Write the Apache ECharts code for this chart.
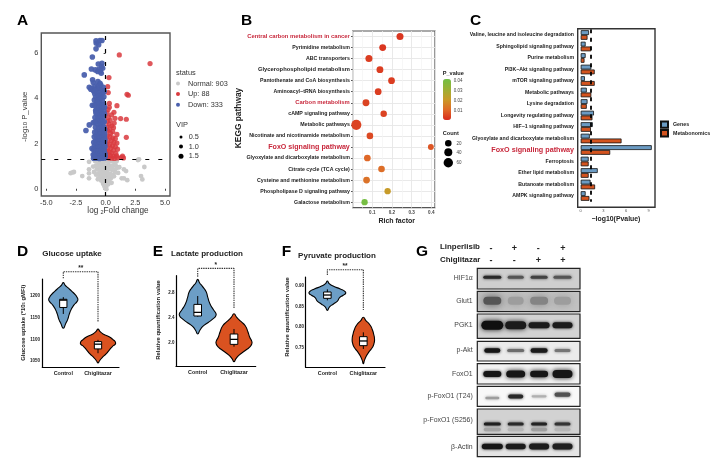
<!DOCTYPE html>
<html><head><meta charset="utf-8">
<style>html,body{margin:0;padding:0;background:#fff}#c{width:720px;height:467px;filter:blur(.45px)}</style>
<script src="https://cdn.jsdelivr.net/npm/echarts@6/dist/echarts.min.js"></script>
</head><body><div id="c"></div>
<script>
// ---------- A: volcano ----------
const volcanoDown = [[-1.8,5.03],[-.81,6.53],[-.48,6.55],[-.31,6.55],[-.79,6.43],[-.81,6.18],[-.59,6.36],[-1.12,5.82],[-.62,5.51],[-.31,5.54],[-.34,5.4],[-1.2,5.29],[-.87,5.25],[-.56,5.28],[-.25,5.32],[-.67,5.18],[-.37,5.1],[-.45,5.2],[-1.1,4.81],[-.65,4.73],[-1.04,4.69],[-.48,4.66],[-1.38,4.48],[-1.15,4.44],[-.9,4.54],[-.67,4.51],[-.42,4.59],[-.2,4.48],[-1.25,4.4],[-1.02,4.32],[-.78,4.38],[-.55,4.42],[-.33,4.36],[-.92,4.2],[-.7,4.24],[-.48,4.18],[-.24,4.22],[-.85,4.05],[-.62,4.08],[-.38,4.02],[-.15,4.06],[-.95,3.92],[-.72,3.9],[-.5,3.94],[-.28,3.88],[-1.12,3.69],[-.8,3.74],[-.58,3.76],[-.36,3.7],[-.16,3.72],[-.68,3.58],[-.46,3.55],[-.25,3.58],[-.84,3.45],[-.6,3.42],[-.38,3.4],[-.15,3.44],[-.72,3.28],[-.5,3.25],[-.28,3.3],[-.9,3.15],[-.64,3.12],[-.42,3.14],[-.18,3.16],[-1.04,2.92],[-.76,3],[-.55,2.98],[-.32,3],[-.12,2.96],[-1.38,2.82],[-.68,2.84],[-.46,2.82],[-.24,2.86],[-1.66,2.57],[-.86,2.72],[-.58,2.68],[-.36,2.7],[-.14,2.72],[-.74,2.55],[-.5,2.54],[-.28,2.56],[-.62,2.4],[-.42,2.42],[-.2,2.38],[-.82,2.36],[-.72,2.24],[-.52,2.26],[-.32,2.25],[-.1,2.28],[-.86,2.12],[-.62,2.1],[-.42,2.12],[-.2,2.14],[-.74,1.98],[-.52,1.96],[-.3,1.98],[-.08,2],[-.95,1.92],[-1.15,1.78],[-1.02,1.72],[-.84,1.8],[-.62,1.82],[-.42,1.84],[-.2,1.8],[-.78,1.66],[-.56,1.68],[-.36,1.7],[-.12,1.68],[-.94,1.55],[-.7,1.54],[-.48,1.56],[-.26,1.54],[-.06,1.56],[-.85,1.42],[-.62,1.42],[-.4,1.44],[-.18,1.42],[-.75,1.35],[-.52,1.34],[-.3,1.35],[-.08,1.36],[-.7,3.82],[-.1,3.6],[-.78,3.52],[-.1,3.3],[-.82,3.35],[-.9,2.95],[-.08,2.6],[-.92,2.5],[-.96,2.3],[-1.0,2.05],[-.08,2.42],[-.06,2.15],[-.06,1.85],[-.04,1.45],[-1.05,1.5],[-1.02,1.35],[-.92,1.38],[-.96,3.7],[-.88,4.34],[-.12,4.3]];
const volcanoUp = [[1.15,5.91],[3.74,5.53],[.28,4.91],[.17,4.51],[.22,4.25],[1.8,4.17],[1.91,4.13],[.95,3.67],[.31,3.77],[.31,3.6],[.2,3.5],[.7,3.38],[.5,3.26],[.12,3.35],[.22,3.15],[.79,3.11],[1.26,3.1],[1.74,3.07],[.38,3.02],[.14,2.98],[.72,2.9],[.3,2.85],[.52,2.78],[.12,2.74],[.66,2.7],[.32,2.62],[.18,2.56],[.6,2.52],[.42,2.45],[.95,2.4],[1.74,2.27],[.14,2.34],[.36,2.3],[.6,2.25],[.82,2.22],[.2,2.14],[.48,2.12],[.7,2.05],[.95,2.02],[.12,1.98],[.34,1.95],[.58,1.9],[.82,1.85],[.18,1.8],[.42,1.78],[1.0,1.75],[.66,1.7],[.1,1.65],[.3,1.62],[.5,1.58],[.86,1.56],[.18,1.5],[.4,1.46],[.66,1.44],[.92,1.45],[1.42,1.44],[1.5,1.36],[1.3,1.38],[.1,1.38],[.28,1.36],[.5,1.35],[.74,1.34],[1.0,1.36]];
const volcanoNormal = [[-2.95,.69],[-2.78,.72],[-2.67,.74],[-1.97,.56],[-1.4,1.19],[-1.4,.86],[-1.4,.68],[-1.4,.46],[-1.05,.98],[-.98,.74],[2.81,1.3],[2.72,1.27],[3.26,.96],[2.98,.56],[3.09,.41],[1.54,.86],[1.72,.78],[1.35,.46],[1.54,.46],[1.82,.38],[1.15,.95],[1.05,.7],[-.88,1.22],[-.7,1.2],[-.52,1.22],[-.32,1.18],[-.12,1.2],[.1,1.22],[.3,1.2],[.5,1.22],[.72,1.18],[.92,1.22],[-.82,1.02],[-.6,1.05],[-.4,1.02],[-.2,1.04],[.02,1.02],[.22,1.04],[.42,1],[.62,1.02],[.84,1.04],[-.74,.86],[-.52,.86],[-.3,.88],[-.1,.84],[.12,.86],[.32,.88],[.52,.84],[.74,.82],[-.62,.68],[-.42,.7],[-.22,.7],[-.02,.68],[.18,.7],[.38,.66],[.6,.62],[-.52,.52],[-.34,.52],[-.14,.54],[.06,.5],[.26,.52],[.46,.48],[-.38,.36],[-.22,.38],[-.04,.34],[.14,.36],[.32,.34],[-.22,.22],[-.08,.2],[.08,.22],[.22,.2],[-.1,.1],[.04,.08],[-.02,.02],[.06,-.02],[.95,.92],[.82,.72],[.7,.55],[-.8,.62],[-.66,.42],[.5,.26],[.02,.92],[-.5,.96],[.55,.92],[-.3,.6],[.28,.6],[-.2,.3]];
const volcanoXTicks = [-5,-2.5,0,2.5,5];
const volcanoYTicks = [0,2,4,6];
const vipLegend = [['0.5',3],['1.0',4],['1.5',5]];

// ---------- B: KEGG bubble ----------
const keggPathways = ['Central carbon metabolism in cancer','Pyrimidine metabolism','ABC transporters','Glycerophospholipid metabolism','Pantothenate and CoA biosynthesis','Aminoacyl\u2212tRNA biosynthesis','Carbon metabolism','cAMP signaling pathway','Metabolic pathways','Nicotinate and nicotinamide metabolism','FoxO signaling pathway','Glyoxylate and dicarboxylate metabolism','Citrate cycle (TCA cycle)','Cysteine and methionine metabolism','Phospholipase D signaling pathway','Galactose metabolism'];
const keggRich = [.241,.153,.083,.139,.198,.13,.068,.158,.019,.088,.398,.075,.147,.071,.178,.061];
const keggP = [.002,.002,.003,.003,.003,.003,.004,.004,.004,.005,.007,.010,.011,.012,.021,.04];
const keggCount = [26,24,26,24,22,22,24,18,70,20,10,22,20,22,16,16];
const pValueTicks = ['0.04','0.03','0.02','0.01'];
const countLegend = [20,40,60];

// ---------- C: bars ----------
const jointPathways = ['Valine, leucine and isoleucine degradation','Sphingolipid signaling pathway','Purine metabolism','PI3K\u2212Akt signaling pathway','mTOR signaling pathway','Metabolic pathways','Lysine degradation','Longevity regulating pathway','HIF\u22121 signaling pathway','Glyoxylate and dicarboxylate metabolism','FoxO signaling pathway','Ferroptosis','Ether lipid metabolism','Butanoate metabolism','AMPK signaling pathway'];
const genesLogP = [1.1,.65,.65,1.4,.55,.8,.9,1.75,1.6,1.2,9.4,1.05,2.25,1.3,.65];
const metabLogP = [.9,1.4,.5,1.85,1.85,1.4,.8,1.55,1.35,5.4,3.9,1.05,1.05,1.9,1.15];

// ---------- D/E/F: violins ([value, half width]) ----------
const violinCategories = ['Control','Chiglitazar'];
const glucoseControl = [[1231.7,0],[1226,.05],[1220,.13],[1212,.24],[1203,.35],[1197,.4],[1192,.42],[1187,.39],[1180,.31],[1170,.23],[1158,.17],[1147,.13],[1137,.07],[1125.8,0]];
const glucoseTreated = [[1123.8,0],[1118,.06],[1112,.16],[1106,.32],[1099,.44],[1094,.5],[1089,.5],[1084,.42],[1076,.33],[1067,.24],[1058,.12],[1050,.04],[1045.4,0]];
const glucoseControlBox = [1159,1174,1191,1193,1198];
const glucoseTreatedBox = [1068,1078,1089,1095,1099];
const lactateControl = [[3.013,0],[2.96,.05],[2.9,.13],[2.82,.23],[2.72,.28],[2.62,.34],[2.53,.43],[2.47,.5],[2.43,.5],[2.38,.42],[2.32,.28],[2.26,.14],[2.2,.06],[2.139,0]];
const lactateTreated = [[2.464,0],[2.41,.07],[2.34,.19],[2.27,.31],[2.18,.38],[2.09,.43],[2.02,.49],[1.98,.49],[1.93,.43],[1.87,.3],[1.8,.14],[1.74,.05],[1.696,0]];
const lactateControlBox = [2.416,2.427,2.485,2.613,2.747];
const lactateTreatedBox = [1.936,1.973,2.053,2.139,2.219];
const pyruvateControl = [[.9112,0],[.905,.05],[.899,.16],[.892,.36],[.886,.49],[.882,.51],[.877,.44],[.871,.34],[.863,.28],[.856,.17],[.849,.06],[.8406,0]];
const pyruvateTreated = [[.8238,0],[.816,.07],[.806,.18],[.794,.25],[.782,.29],[.772,.31],[.762,.3],[.751,.25],[.741,.16],[.73,.08],[.72,.03],[.7122,0]];
const pyruvateControlBox = [.8647,.8695,.8775,.8848,.8912];
const pyruvateTreatedBox = [.7475,.7555,.7668,.7772,.7876];
const glucoseTicks = [1050,1100,1150,1200];
const lactateTicks = [2.0,2.4,2.8];
const pyruvateTicks = [.75,.80,.85,.90];

// ---------- G: blot (band darkness per lane) ----------
const blotTargets = ['HIF1\u03b1','Glut1','PGK1','p-Akt','FoxO1','p-FoxO1 (T24)','p-FoxO1 (S256)','\u03b2-Actin'];
const linperlisibSigns = ['-','+','-','+'];
const chiglitazarSigns = ['-','-','+','+'];
const blotDarkness = [[.85,.62,.72,.62],[.62,.25,.38,.25],[.98,.92,.92,.92],[.95,.5,.92,.45],[.95,.95,.95,.95],[.25,.85,.15,.65],[.9,.85,.88,.8],[.95,.92,.92,.9]];
const s256LowerDarkness = [.22,.12,.24,.12];

// ---------- layout / style (not data) ----------
const F = 'Liberation Sans, Arial, sans-serif';
const INK = '#222', RED = '#c8283c';
const txt = (text,x,y,o={}) => ({type:'text',x,y,rotation:o.rot||0,silent:true,z:50,style:{text,fontSize:o.size||6,fontWeight:o.bold?'bold':'normal',fill:o.color||INK,fontFamily:F,align:o.align||'left',verticalAlign:'middle',rich:o.rich}});
const R90 = Math.PI/2;
const grids=[],xAxes=[],yAxes=[],series=[],graphic=[];
const addGrid=(g,x,y)=>{grids.push(Object.assign({containLabel:false},g));const i=grids.length-1;xAxes.push(Object.assign({gridIndex:i},x));yAxes.push(Object.assign({gridIndex:i},y));return i;};
const px=(l,t,r,b,extra)=>Object.assign({left:l,top:t,width:r-l,height:b-t},extra||{});

// Panel letters
[['A',17,20.5],['B',241,20.5],['C',470,20.5],['D',17,252],['E',152.7,252],['F',281.7,252],['G',416,252]].forEach(a=>graphic.push(txt(a[0],a[1],a[2],{size:15.5,bold:true,color:'#000'})));

// A ---------------------------------------------------------
const gA=addGrid(px(41.3,33,170,196,{show:true,borderColor:'#555',borderWidth:1.4,backgroundColor:'#fff'}),
 {type:'value',min:-5.42,max:5.42,splitLine:{show:false},axisLine:{show:false},
  axisTick:{show:true,length:2,customValues:volcanoXTicks,lineStyle:{color:'#444'}},
  axisLabel:{customValues:volcanoXTicks,formatter:v=>v.toFixed(1),fontSize:7.4,color:'#333',margin:3}},
 {type:'value',min:-.32,max:6.88,splitLine:{show:false},axisLine:{show:false},
  axisTick:{show:true,length:2,customValues:volcanoYTicks,lineStyle:{color:'#444'}},
  axisLabel:{customValues:volcanoYTicks,fontSize:7.4,color:'#333',margin:3}});
series.push({type:'scatter',name:'threshold',xAxisIndex:gA,yAxisIndex:gA,data:[],z:1,markLine:{silent:true,symbol:'none',label:{show:false},animation:false,
  lineStyle:{color:'#000',width:1.2,type:[4,9]},data:[{yAxis:1.3},{xAxis:0}]}});
[['Normal: 903',volcanoNormal,'#c9c9c9',4.8,1],['Up: 88',volcanoUp,'#d93a3e',5.2,.85],['Down: 333',volcanoDown,'#4a60ad',5.6,.95]].forEach(s=>series.push({type:'scatter',name:s[0],xAxisIndex:gA,yAxisIndex:gA,data:s[1],symbolSize:s[3],z:2,itemStyle:{color:s[2],opacity:s[4]}}));
graphic.push(txt('log {s|2}Fold change',118,211,{size:8.2,color:'#333',align:'center',rich:{s:{fontSize:5.5,fill:'#333',verticalAlign:'bottom',fontFamily:F}}}));
graphic.push(txt('-log{s|10} P_value',25,116.7,{size:7.8,color:'#333',align:'center',rot:R90,rich:{s:{fontSize:6,fill:'#333',fontFamily:F}}}));
graphic.push(txt('status',176,73,{size:7.4,color:'#333'}),txt('VIP',176,124.7,{size:7.4,color:'#333'}));
vipLegend.forEach((v,i)=>{const y=137+i*9.6;graphic.push({type:'circle',silent:true,z:50,shape:{cx:181,cy:y,r:v[1]/2},style:{fill:'#000'}},txt(v[0],188.7,y,{size:7.3,color:'#333'}));});

// B ---------------------------------------------------------
const bSpecial={'Central carbon metabolism in cancer':[5.85,RED],'Carbon metabolism':[5.85,RED],'FoxO signaling pathway':[7.1,RED],'Glycerophospholipid metabolism':[5.8,INK]};
const gB=addGrid(px(352.6,31,435,207.7,{show:true,borderColor:'#555',borderWidth:1.2,backgroundColor:'#fff'}),
 {type:'value',min:0,max:.419,interval:.1,minorTick:{show:false,splitNumber:2},minorSplitLine:{show:true,lineStyle:{color:'#f3f3f3',width:.7}},
  splitLine:{show:true,lineStyle:{color:'#e6e6e6',width:.9}},axisLine:{show:false},axisTick:{show:false},
  axisLabel:{formatter:v=>v===0?'':v.toFixed(1),fontSize:4.6,fontWeight:'bold',color:'#444',margin:3}},
 {type:'category',inverse:true,data:keggPathways.map(n=>bSpecial[n]?{value:n,textStyle:{fontSize:bSpecial[n][0],color:bSpecial[n][1]}}:n),
  axisLine:{show:false},axisTick:{show:true,length:1.5,alignWithLabel:true,lineStyle:{color:'#444'}},
  splitLine:{show:true,alignWithLabel:true,lineStyle:{color:'#e6e6e6',width:.9}},
  axisLabel:{interval:0,fontSize:5.25,fontWeight:'bold',color:INK,margin:2.8}});
const sizeOf=c=>5.2+.07*c;
const bIndex=series.length;
series.push({type:'scatter',name:'KEGG',xAxisIndex:gB,yAxisIndex:gB,clip:false,z:3,itemStyle:{opacity:1},data:keggRich.map((r,i)=>[r,i,keggP[i],keggCount[i]]),symbolSize:v=>sizeOf(v[3])});
graphic.push(txt('KEGG pathway',239,118,{size:8.4,bold:true,align:'center',rot:R90}),txt('Rich factor',396.7,221,{size:7,bold:true,align:'center'}),
 txt('P_value',442.7,73.7,{size:5.6,bold:true}),txt('Count',442.7,133.7,{size:5.6,bold:true}));
pValueTicks.forEach((t,i)=>graphic.push(txt(t,453.7,80.7+i*10,{size:4.5,color:'#444'})));
countLegend.forEach((c,i)=>{const y=[143.3,152.3,162.7][i];graphic.push({type:'circle',silent:true,z:50,shape:{cx:448.3,cy:y,r:sizeOf(c)/2},style:{fill:'#000'}},txt(String(c),456.5,y,{size:4.5,color:'#444'}));});

// C ---------------------------------------------------------
const gC=addGrid(px(577.7,29.25,655,201.75),
 {type:'value',min:-.4,max:9.83,splitLine:{show:false},axisLine:{show:false},axisTick:{show:false},
  axisLabel:{customValues:[0,3,6,9],fontSize:4,color:'#555',margin:7.5}},
 {type:'category',inverse:true,data:jointPathways.map(n=>n==='FoxO signaling pathway'?{value:n,textStyle:{fontSize:7.2,color:RED}}:n),
  axisLine:{show:false},axisTick:{show:false},axisLabel:{interval:0,fontSize:5.2,fontWeight:'bold',color:INK,margin:3.7}});
const cBar=(name,data,color)=>({type:'bar',name,xAxisIndex:gC,yAxisIndex:gC,data,barWidth:4.8,barGap:'0%',z:3,itemStyle:{color,borderColor:'#111',borderWidth:.8}});
series.push(Object.assign(cBar('Genes',genesLogP,'#6b9bc3'),{markLine:{silent:true,symbol:'none',label:{show:false},animation:false,lineStyle:{color:'#000',width:1.8,type:[4,4.5]},data:[{xAxis:1.37}]}}),cBar('Metabonomics',metabLogP,'#d4541f'));
graphic.push({type:'rect',silent:true,z:40,shape:{x:577.7,y:28.7,width:77.3,height:178.6},style:{fill:'none',stroke:'#333',lineWidth:1.4}});
graphic.push(txt('\u2212log10(Pvalue)',616,219.3,{size:6.9,bold:true,align:'center'}));

// D/E/F -----------------------------------------------------
const violinPanel=(o)=>{
  const g=addGrid(px(o.left,o.top,o.right,o.bottom),
   {type:'value',min:o.xMin,max:o.xMax,splitLine:{show:false},axisTick:{show:false},
    axisLine:{show:true,onZero:false,lineStyle:{color:'#000',width:1.2}},
    axisLabel:{customValues:[0,1],formatter:v=>violinCategories[v],fontSize:5.4,fontWeight:'bold',color:INK,margin:3.5}},
   {type:'value',min:o.yMin,max:o.yMax,splitLine:{show:false},axisTick:{show:false},
    axisLine:{show:true,onZero:false,lineStyle:{color:'#000',width:1.2}},
    axisLabel:{customValues:o.ticks,formatter:o.fmt,fontSize:4.5,fontWeight:'bold',color:INK,margin:o.labelMargin}});
  const colors=['#6c9ec6','#da5220'];
  series.push({type:'custom',name:o.name,xAxisIndex:g,yAxisIndex:g,z:3,data:[[0],[1]],clip:false,
    renderItem:(p,api)=>{
      const i=api.value(0),prof=o.violins[i],box=o.boxes[i],hw=.105;
      const pts=prof.map(d=>api.coord([i+d[1],d[0]])).concat(prof.slice().reverse().slice(1,-1).map(d=>api.coord([i-d[1],d[0]])));
      const tl=api.coord([i-hw,box[3]]),br=api.coord([i+hw,box[1]]),ml=api.coord([i-hw,box[2]]),mr=api.coord([i+hw,box[2]]),wt=api.coord([i,box[4]]),wb=api.coord([i,box[0]]);
      return {type:'group',children:[
        {type:'polygon',shape:{points:pts,smooth:.6},style:{fill:colors[i],stroke:'#000',lineWidth:1.1}},
        {type:'line',shape:{x1:wt[0],y1:wt[1],x2:wb[0],y2:wb[1]},style:{stroke:'#000',lineWidth:1}},
        {type:'rect',shape:{x:tl[0],y:tl[1],width:br[0]-tl[0],height:br[1]-tl[1]},style:{fill:'#fff',stroke:'#000',lineWidth:1}},
        {type:'line',shape:{x1:ml[0],y1:ml[1],x2:mr[0],y2:mr[1]},style:{stroke:'#000',lineWidth:1.3}}
      ]};
    }});
  series.push({type:'line',name:o.name+' bracket',xAxisIndex:g,yAxisIndex:g,clip:false,showSymbol:false,silent:true,z:4,data:o.bracket,
    lineStyle:{color:'#333',width:1.1,type:[1.4,.9]}});
};
violinPanel({name:'Glucose uptake',left:42.3,top:279,right:119,bottom:367.3,xMin:-.605,xMax:1.605,yMin:1035.4,yMax:1240,ticks:glucoseTicks,fmt:v=>String(v),labelMargin:2.3,
  violins:[glucoseControl,glucoseTreated],boxes:[glucoseControlBox,glucoseTreatedBox],bracket:[[0,1241.5],[0,1256.9],[1,1256.9],[1,1140]]});
violinPanel({name:'Lactate production',left:176,top:275.7,right:255.7,bottom:366.3,xMin:-.598,xMax:1.598,yMin:1.622,yMax:3.072,ticks:lactateTicks,fmt:v=>v.toFixed(1),labelMargin:1.6,
  violins:[lactateControl,lactateTreated],boxes:[lactateControlBox,lactateTreatedBox],bracket:[[0,3.056],[0,3.189],[1,3.189],[1,2.539]]});
violinPanel({name:'Pyruvate production',left:305.7,top:277,right:385,bottom:367.3,xMin:-.602,xMax:1.602,yMin:.7034,yMax:.9209,ticks:pyruvateTicks,fmt:v=>v.toFixed(2),labelMargin:1.6,
  violins:[pyruvateControl,pyruvateTreated],boxes:[pyruvateControlBox,pyruvateTreatedBox],bracket:[[0,.9257],[0,.9385],[1,.9385],[1,.8414]]});
graphic.push(
 txt('Glucose uptake',72,254,{size:8,bold:true,align:'center'}),txt('Lactate production',207,254,{size:8,bold:true,align:'center'}),txt('Pyruvate production',337,255.3,{size:8,bold:true,align:'center'}),
 txt('**',80.7,268.5,{size:6.5,bold:true,align:'center'}),txt('*',215.7,265,{size:6.5,bold:true,align:'center'}),txt('**',345,266.5,{size:6.5,bold:true,align:'center'}),
 txt('Glucose uptake (*10{p|5} gMFI)',23.7,322.8,{size:5.9,bold:true,align:'center',rot:R90,rich:{p:{fontSize:4,fontWeight:'bold',fill:INK,fontFamily:F}}}),
 txt('Relative quantification value',158.7,320,{size:5.9,bold:true,align:'center',rot:R90}),
 txt('Relative quantification value',287.7,317,{size:5.9,bold:true,align:'center',rot:R90}));

// G ---------------------------------------------------------
const rowTop=[0,23,45.7,73,95.4,118,140.7,168];
const rowBottom=[20.7,43.4,70,92.7,115.7,138,166,188.4];
const rowBg=['#cfcfcf','#c2c2c2','#d2d2d2','#ebebeb','#f2f2f2','#f8f8f8','#d2d2d2','#e4e4e4'];
const bandY=[9,9.5,11.3,9.2,10.2,[11.7,10.3,10,8.3],[15,15,15,15],10.3];
const bandH=[3,8,[9,8,6,6],[4.6,3.2,4.4,3.2],[6,7,6.5,8],[2.6,4,2.2,4.4],3.2,[5.5,5.5,6,6]];
const bandW=[[18,16,17,18],[18,16,18,17],[22,21,21,20],[16,17,17,16],[18,19,18,20],[14,15,15,16],[17,16,16,16],[21,20,20,20]];
const pick=(v,i)=>Array.isArray(v)?v[i]:v;
const gG=addGrid(px(477.3,268.3,580,456.7),{type:'value',show:false,min:-.641,max:3.748},{type:'value',show:false,inverse:true,min:0,max:188.4});
series.push({type:'custom',name:'Blot panels',xAxisIndex:gG,yAxisIndex:gG,z:2,silent:true,data:blotTargets.map((n,i)=>[i]),
  renderItem:(p,api)=>{const i=api.value(0),a=api.coord([-.641,rowTop[i]]),b=api.coord([3.748,rowBottom[i]]);
    return {type:'rect',shape:{x:a[0],y:a[1],width:b[0]-a[0],height:b[1]-a[1]},style:{fill:rowBg[i]}};}});
const bandData=[];blotDarkness.forEach((r,ri)=>r.forEach((d,l)=>bandData.push([l,ri,d,0])));
s256LowerDarkness.forEach((d,l)=>bandData.push([l,6,d,1]));
series.push({type:'custom',name:'Blot bands',xAxisIndex:gG,yAxisIndex:gG,z:3,silent:true,data:bandData,
  renderItem:(p,api)=>{const l=api.value(0),r=api.value(1),d=api.value(2),low=api.value(3);
    const c=api.coord([l,rowTop[r]+(low?20.5:pick(bandY[r],l))]);
    const w=bandW[r][l],h=low?3.5:pick(bandH[r],l),g=Math.round(205*(1-d)+12*d);
    const col=`rgb(${g},${g},${g})`;
    return {type:'rect',shape:{x:c[0]-w/2,y:c[1]-h/2,width:w,height:h,r:h/2},style:{fill:col,shadowBlur:r===1?8:(h>6?5:3),shadowColor:col}};}});
series.push({type:'custom',name:'Blot frames',xAxisIndex:gG,yAxisIndex:gG,z:4,silent:true,data:blotTargets.map((n,i)=>[i]),
  renderItem:(p,api)=>{const i=api.value(0),a=api.coord([-.641,rowTop[i]]),b=api.coord([3.748,rowBottom[i]]);
    return {type:'rect',shape:{x:a[0],y:a[1],width:b[0]-a[0],height:b[1]-a[1]},style:{fill:'none',stroke:'#222',lineWidth:1.2}};}});
const rowLabelY=[278,301,325,350,374,396,420,446.7];
blotTargets.forEach((t,i)=>graphic.push(txt(t,472.7,rowLabelY[i],{size:6.9,color:'#444',align:'right'})));
graphic.push(txt('Linperlisib',440,247.3,{size:7.9,bold:true}),txt('Chiglitazar',440,260,{size:7.9,bold:true}));
[491,514.3,538.3,563].forEach((x,i)=>{graphic.push(txt(linperlisibSigns[i],x,248.5,{size:9,bold:true,align:'center'}),txt(chiglitazarSigns[i],x,260.5,{size:9,bold:true,align:'center'}));});

const chart=echarts.init(document.getElementById('c'),null,{renderer:'canvas',width:720,height:467});
chart.setOption({animation:false,backgroundColor:'#fff',textStyle:{fontFamily:F},grid:grids,xAxis:xAxes,yAxis:yAxes,series,graphic:{elements:graphic},
 legend:[
  {data:['Normal: 903','Up: 88','Down: 333'],left:176,top:80,orient:'vertical',padding:0,itemWidth:10,itemHeight:4,itemGap:3.6,itemStyle:{opacity:1},selectedMode:false,textStyle:{fontSize:7.3,color:'#333',fontFamily:F},icon:'circle'},
  {data:['Genes','Metabonomics'],left:660,top:120.5,orient:'vertical',padding:0,itemWidth:7,itemHeight:6.3,itemGap:.3,itemTextGap:2.3,selectedMode:false,icon:'rect',textStyle:{fontSize:5.3,fontWeight:'bold',color:INK,fontFamily:F}}
 ],
 visualMap:[{type:'continuous',seriesIndex:bIndex,dimension:2,min:0,max:.041,left:443,top:79,padding:0,itemWidth:8,itemHeight:41,calculable:false,realtime:false,hoverLink:false,text:null,inRange:{color:['#d92a1e','#df6a28','#c99a28','#9cb035','#72bf44']}}]
});
</script></body></html>
